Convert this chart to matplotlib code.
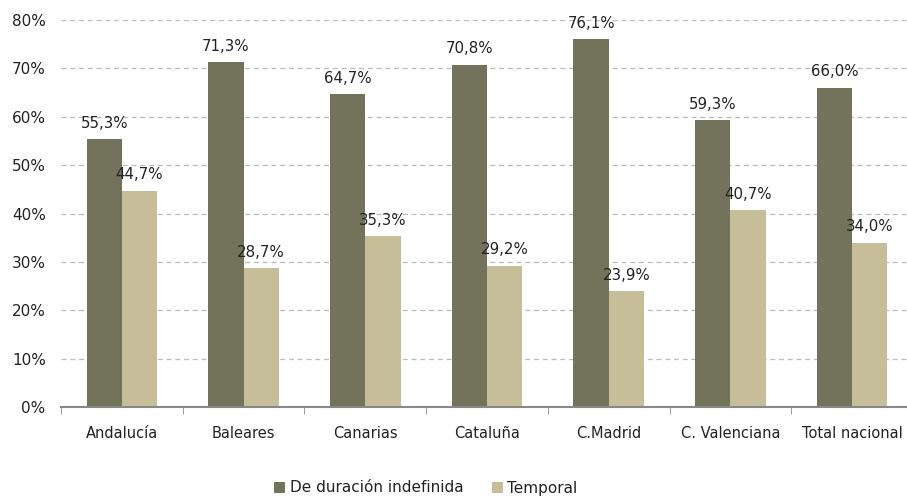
import numpy as np
import matplotlib
matplotlib.use("Agg")
import matplotlib.pyplot as plt
from matplotlib.ticker import FixedLocator

categories = ["Andalucía", "Baleares", "Canarias", "Cataluña", "C.Madrid",
              "C. Valenciana", "Total nacional"]
indefinida = [55.3, 71.3, 64.7, 70.8, 76.1, 59.3, 66.0]
temporal = [44.7, 28.7, 35.3, 29.2, 23.9, 40.7, 34.0]
series_names = ["De duración indefinida", "Temporal"]

DARK = "#72735a"
LIGHT = "#c5be98"
plt.rcParams["font.family"] = ["DejaVu Sans"]

fig = plt.figure(figsize=(9.07, 4.96), dpi=100)
W, H = 907, 496
ax = fig.add_axes([61 / W, (H - 407) / H, (913 - 61) / W, (407 - 20) / H])

x = np.arange(len(categories))
width = 0.29
b1 = ax.bar(x - width / 2, indefinida, width, color=DARK, label=series_names[0])
b2 = ax.bar(x + width / 2, temporal, width, color=LIGHT, label=series_names[1])

# value labels above each bar, Spanish decimal comma
for bars, vals in ((b1, indefinida), (b2, temporal)):
    for rect, v in zip(bars, vals):
        ax.annotate(f"{v:.1f}%".replace(".", ","),
                    (rect.get_x() + rect.get_width() / 2, v),
                    xytext=(0, 6), textcoords="offset points",
                    ha="center", va="bottom", fontsize=10.8, color="#222222")

ax.set_xlim(-0.5, len(categories) - 0.5)
ax.set_ylim(0, 80)
ax.set_yticks(np.arange(0, 81, 10))
ax.set_yticklabels([f"{t}%" for t in range(0, 81, 10)])
ax.yaxis.grid(True, linestyle=(0, (4, 3)), color="#bbbbbb", linewidth=0.9)
ax.set_axisbelow(True)

ax.set_xticks(x)
ax.set_xticklabels(categories)
ax.xaxis.set_minor_locator(FixedLocator(np.arange(-0.5, len(categories), 1)))
ax.tick_params(axis="x", which="major", length=0, pad=14, labelsize=10.5,
               labelcolor="#222222")
ax.tick_params(axis="x", which="minor", length=5, color="#888888", direction="out")
ax.tick_params(axis="y", length=0, pad=11, labelsize=11, labelcolor="#222222")

for s in ("left", "right", "top"):
    ax.spines[s].set_visible(False)
ax.spines["bottom"].set_color("#888888")
ax.spines["bottom"].set_linewidth(1.5)

leg = fig.legend(handles=[b1, b2], loc="center",
                 bbox_to_anchor=(426 / W, 1 - 488 / H),
                 ncol=2, frameon=False, fontsize=11, handlelength=0.7,
                 handleheight=0.7, handletextpad=0.3, columnspacing=1.9,
                 borderpad=0)
for t in leg.get_texts():
    t.set_color("#222222")

fig.savefig("out.png", dpi=100)
